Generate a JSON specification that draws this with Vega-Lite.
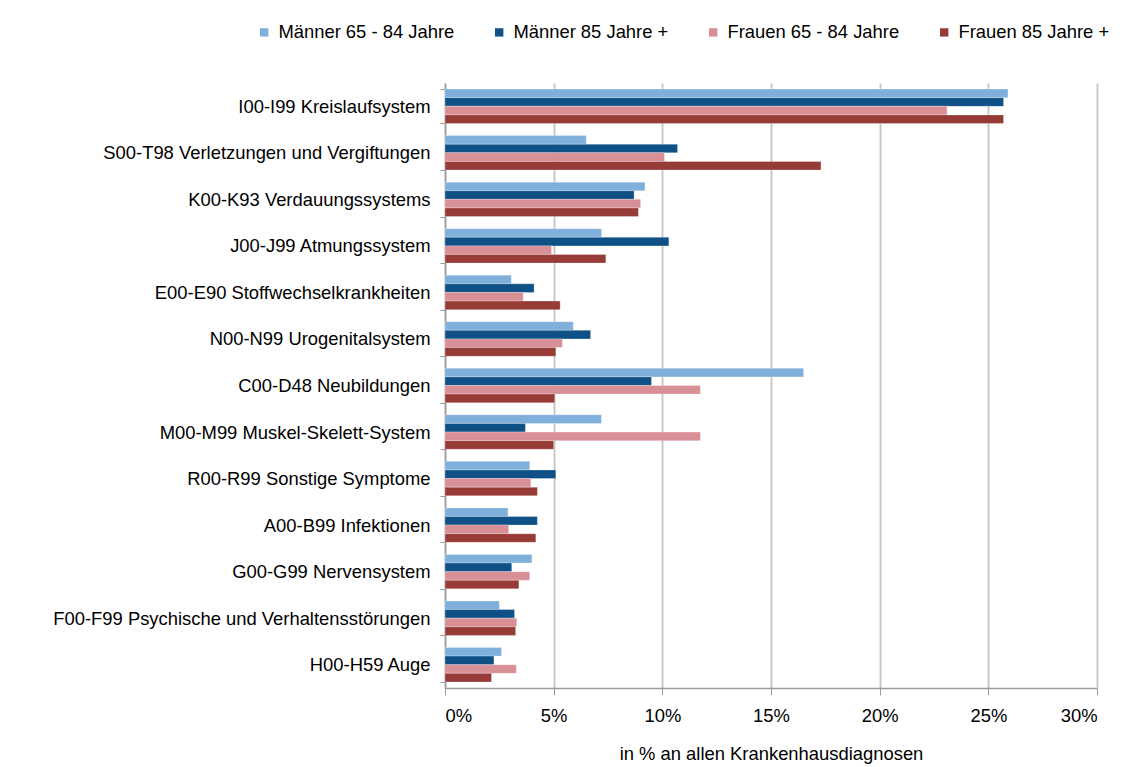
{
  "$schema": "https://vega.github.io/schema/vega-lite/v6.json",
  "autosize": "none",
  "width": 652,
  "height": 605,
  "padding": {"left": 445, "top": 83, "right": 41, "bottom": 79},
  "background": "white",
  "config": {
    "font": "Liberation Sans",
    "view": {"stroke": null}
  },
  "data": {
    "values": [
      {"cat": "I00-I99 Kreislaufsystem", "group": "Männer  65 - 84 Jahre", "v": 25.9},
      {"cat": "I00-I99 Kreislaufsystem", "group": "Männer  85 Jahre +", "v": 25.7},
      {"cat": "I00-I99 Kreislaufsystem", "group": "Frauen  65 - 84 Jahre", "v": 23.1},
      {"cat": "I00-I99 Kreislaufsystem", "group": "Frauen  85 Jahre +", "v": 25.7},
      {"cat": "S00-T98 Verletzungen und Vergiftungen", "group": "Männer  65 - 84 Jahre", "v": 6.5},
      {"cat": "S00-T98 Verletzungen und Vergiftungen", "group": "Männer  85 Jahre +", "v": 10.7},
      {"cat": "S00-T98 Verletzungen und Vergiftungen", "group": "Frauen  65 - 84 Jahre", "v": 10.1},
      {"cat": "S00-T98 Verletzungen und Vergiftungen", "group": "Frauen  85 Jahre +", "v": 17.3},
      {"cat": "K00-K93 Verdauungssystems", "group": "Männer  65 - 84 Jahre", "v": 9.2},
      {"cat": "K00-K93 Verdauungssystems", "group": "Männer  85 Jahre +", "v": 8.7},
      {"cat": "K00-K93 Verdauungssystems", "group": "Frauen  65 - 84 Jahre", "v": 9.0},
      {"cat": "K00-K93 Verdauungssystems", "group": "Frauen  85 Jahre +", "v": 8.9},
      {"cat": "J00-J99 Atmungssystem", "group": "Männer  65 - 84 Jahre", "v": 7.2},
      {"cat": "J00-J99 Atmungssystem", "group": "Männer  85 Jahre +", "v": 10.3},
      {"cat": "J00-J99 Atmungssystem", "group": "Frauen  65 - 84 Jahre", "v": 4.9},
      {"cat": "J00-J99 Atmungssystem", "group": "Frauen  85 Jahre +", "v": 7.4},
      {"cat": "E00-E90 Stoffwechselkrankheiten", "group": "Männer  65 - 84 Jahre", "v": 3.05},
      {"cat": "E00-E90 Stoffwechselkrankheiten", "group": "Männer  85 Jahre +", "v": 4.1},
      {"cat": "E00-E90 Stoffwechselkrankheiten", "group": "Frauen  65 - 84 Jahre", "v": 3.6},
      {"cat": "E00-E90 Stoffwechselkrankheiten", "group": "Frauen  85 Jahre +", "v": 5.3},
      {"cat": "N00-N99 Urogenitalsystem", "group": "Männer  65 - 84 Jahre", "v": 5.9},
      {"cat": "N00-N99 Urogenitalsystem", "group": "Männer  85 Jahre +", "v": 6.7},
      {"cat": "N00-N99 Urogenitalsystem", "group": "Frauen  65 - 84 Jahre", "v": 5.4},
      {"cat": "N00-N99 Urogenitalsystem", "group": "Frauen  85 Jahre +", "v": 5.1},
      {"cat": "C00-D48 Neubildungen", "group": "Männer  65 - 84 Jahre", "v": 16.5},
      {"cat": "C00-D48 Neubildungen", "group": "Männer  85 Jahre +", "v": 9.5},
      {"cat": "C00-D48 Neubildungen", "group": "Frauen  65 - 84 Jahre", "v": 11.75},
      {"cat": "C00-D48 Neubildungen", "group": "Frauen  85 Jahre +", "v": 5.05},
      {"cat": "M00-M99 Muskel-Skelett-System", "group": "Männer  65 - 84 Jahre", "v": 7.2},
      {"cat": "M00-M99 Muskel-Skelett-System", "group": "Männer  85 Jahre +", "v": 3.7},
      {"cat": "M00-M99 Muskel-Skelett-System", "group": "Frauen  65 - 84 Jahre", "v": 11.75},
      {"cat": "M00-M99 Muskel-Skelett-System", "group": "Frauen  85 Jahre +", "v": 5.0},
      {"cat": "R00-R99 Sonstige Symptome", "group": "Männer  65 - 84 Jahre", "v": 3.9},
      {"cat": "R00-R99 Sonstige Symptome", "group": "Männer  85 Jahre +", "v": 5.1},
      {"cat": "R00-R99 Sonstige Symptome", "group": "Frauen  65 - 84 Jahre", "v": 3.95},
      {"cat": "R00-R99 Sonstige Symptome", "group": "Frauen  85 Jahre +", "v": 4.25},
      {"cat": "A00-B99 Infektionen", "group": "Männer  65 - 84 Jahre", "v": 2.9},
      {"cat": "A00-B99 Infektionen", "group": "Männer  85 Jahre +", "v": 4.25},
      {"cat": "A00-B99 Infektionen", "group": "Frauen  65 - 84 Jahre", "v": 2.93},
      {"cat": "A00-B99 Infektionen", "group": "Frauen  85 Jahre +", "v": 4.18},
      {"cat": "G00-G99 Nervensystem", "group": "Männer  65 - 84 Jahre", "v": 4.0},
      {"cat": "G00-G99 Nervensystem", "group": "Männer  85 Jahre +", "v": 3.07},
      {"cat": "G00-G99 Nervensystem", "group": "Frauen  65 - 84 Jahre", "v": 3.9},
      {"cat": "G00-G99 Nervensystem", "group": "Frauen  85 Jahre +", "v": 3.4},
      {"cat": "F00-F99 Psychische und Verhaltensstörungen", "group": "Männer  65 - 84 Jahre", "v": 2.5},
      {"cat": "F00-F99 Psychische und Verhaltensstörungen", "group": "Männer  85 Jahre +", "v": 3.2},
      {"cat": "F00-F99 Psychische und Verhaltensstörungen", "group": "Frauen  65 - 84 Jahre", "v": 3.3},
      {"cat": "F00-F99 Psychische und Verhaltensstörungen", "group": "Frauen  85 Jahre +", "v": 3.25},
      {"cat": "H00-H59 Auge", "group": "Männer  65 - 84 Jahre", "v": 2.6},
      {"cat": "H00-H59 Auge", "group": "Männer  85 Jahre +", "v": 2.25},
      {"cat": "H00-H59 Auge", "group": "Frauen  65 - 84 Jahre", "v": 3.28},
      {"cat": "H00-H59 Auge", "group": "Frauen  85 Jahre +", "v": 2.14}
    ]
  },
  "mark": {"type": "bar", "stroke": "white", "strokeOpacity": 0.35, "strokeWidth": 0.8},
  "encoding": {
    "y": {
      "field": "cat",
      "type": "nominal",
      "sort": null,
      "scale": {"paddingInner": 0.26, "paddingOuter": 0.13},
      "axis": {
        "title": null,
        "labelFontSize": 18.4,
        "labelColor": "#000000",
        "labelLimit": 0,
        "labelPadding": 10,
        "tickBand": "extent",
        "tickSize": 5,
        "tickColor": "#9a9a9a",
        "domainColor": "#9a9a9a",
        "domainWidth": 1.5,
        "grid": false
      }
    },
    "yOffset": {
      "field": "group",
      "type": "nominal",
      "sort": ["Männer  65 - 84 Jahre", "Männer  85 Jahre +", "Frauen  65 - 84 Jahre", "Frauen  85 Jahre +"],
      "scale": {"paddingInner": 0, "paddingOuter": 0}
    },
    "x": {
      "field": "v",
      "type": "quantitative",
      "scale": {"domain": [0, 30], "nice": false},
      "axis": {
        "title": "in % an allen Krankenhausdiagnosen",
        "titleFontSize": 18.4,
        "titleFontWeight": "normal",
        "titleColor": "#000000",
        "titlePadding": 20,
        "values": [0, 5, 10, 15, 20, 25, 30],
        "labelExpr": "datum.value + '%'",
        "labelFontSize": 18.4,
        "labelColor": "#000000",
        "labelPadding": 11,
        "tickSize": 7,
        "tickColor": "#9a9a9a",
        "domainColor": "#9a9a9a",
        "domainWidth": 1.5,
        "gridColor": "#c4c4c4",
        "gridWidth": 1.8
      }
    },
    "color": {
      "field": "group",
      "type": "nominal",
      "scale": {
        "domain": ["Männer  65 - 84 Jahre", "Männer  85 Jahre +", "Frauen  65 - 84 Jahre", "Frauen  85 Jahre +"],
        "range": ["#7fafdb", "#0f5186", "#d98f96", "#973b37"]
      },
      "legend": {
        "title": null,
        "orient": "none",
        "legendX": -190,
        "legendY": -60,
        "direction": "horizontal",
        "columns": 4,
        "symbolType": "square",
        "symbolSize": 70,
        "symbolStrokeWidth": 0,
        "labelFontSize": 18.4,
        "labelColor": "#000000",
        "labelOffset": 5,
        "columnPadding": 30,
        "labelLimit": 0
      }
    }
  }
}
